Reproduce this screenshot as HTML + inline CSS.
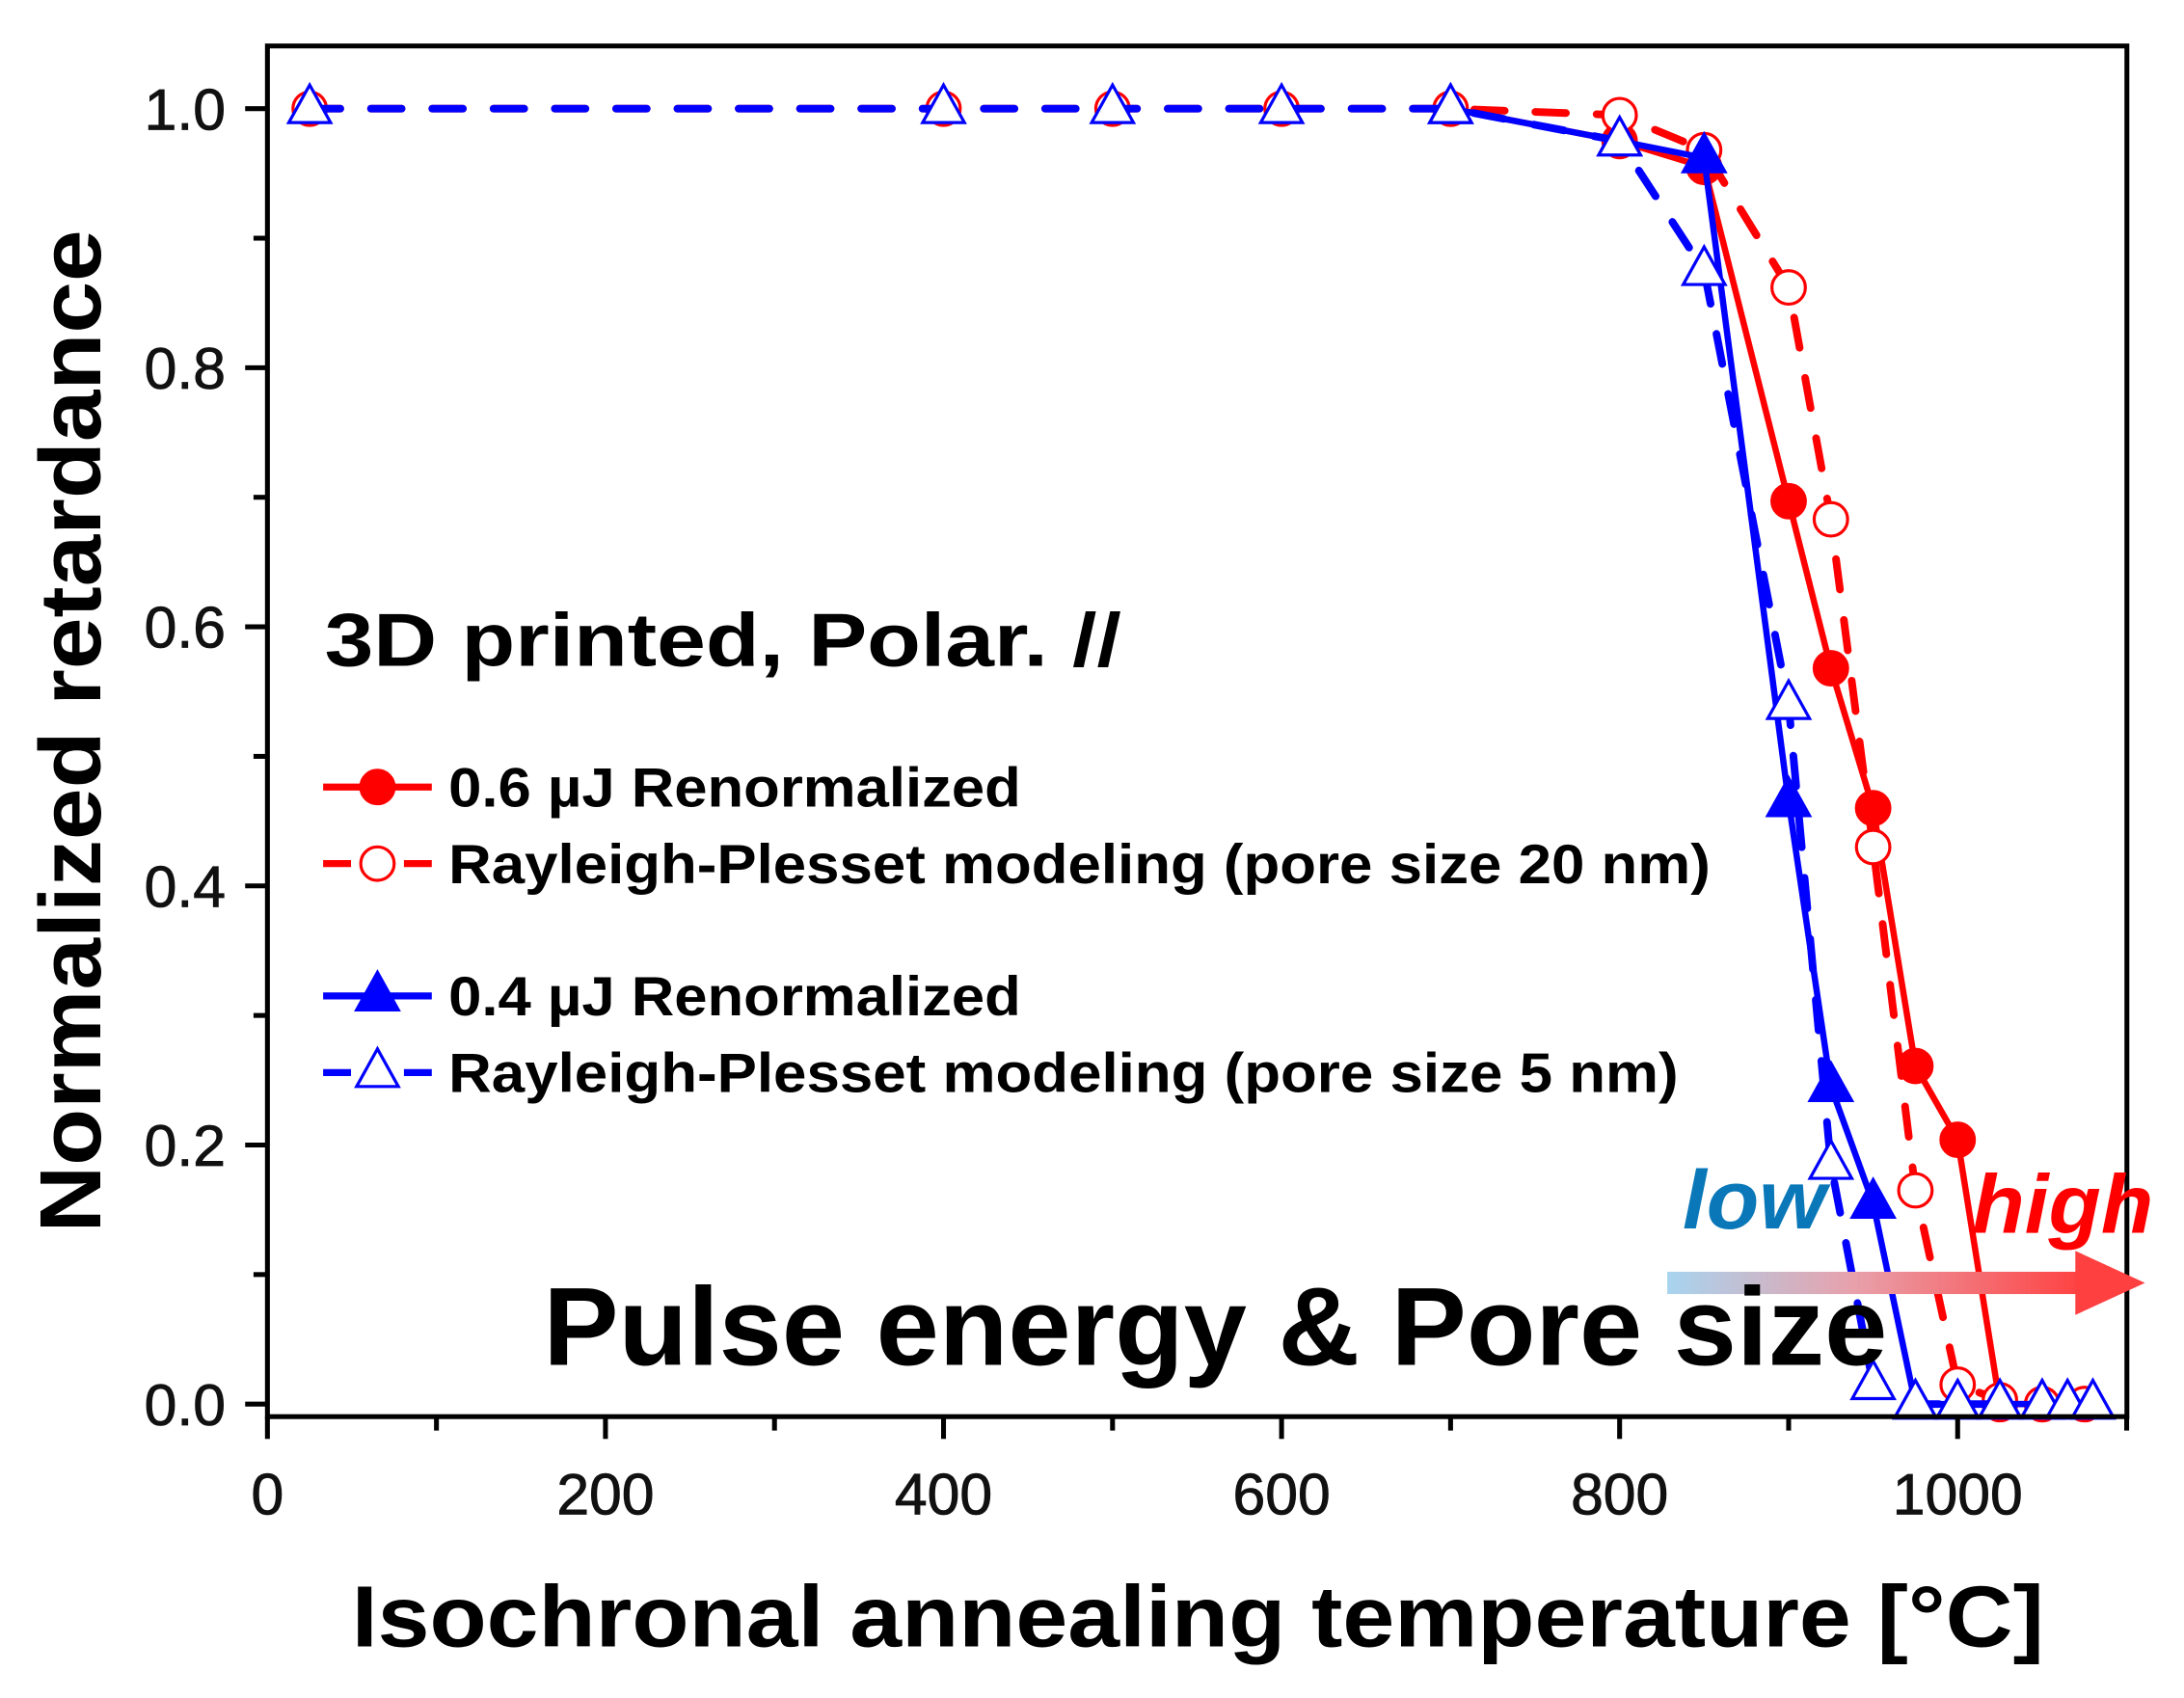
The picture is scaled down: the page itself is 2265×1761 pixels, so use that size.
<!DOCTYPE html>
<html><head><meta charset="utf-8"><style>html,body{margin:0;padding:0;background:#fff}svg{display:block}</style></head>
<body>
<svg id="s" width="2265" height="1761" viewBox="0 0 1568 1219" preserveAspectRatio="none" xmlns="http://www.w3.org/2000/svg" font-family="Liberation Sans, Arial, sans-serif">
<defs>
<linearGradient id="g" x1="0" x2="1" y1="0" y2="0">
<stop offset="0" stop-color="#a8d4ef"/><stop offset="0.45" stop-color="#e8a0aa"/><stop offset="1" stop-color="#ff4040"/>
</linearGradient>
</defs>
<rect x="0" y="0" width="1568" height="1219" fill="#fff"/>
<g id="plot"></g>
<rect x="192" y="33" width="1335" height="984" fill="none" stroke="#000" stroke-width="3.5"/>
<g id="ticks" stroke="#000" stroke-width="3.5"></g>
<g font-size="42" fill="#111" id="tl" stroke="#111" stroke-width="0.6"></g>
<text x="860" y="1182" font-size="62" font-weight="bold" text-anchor="middle" textLength="1215" lengthAdjust="spacingAndGlyphs">Isochronal annealing temperature [°C]</text>
<text transform="translate(72,525) rotate(-90)" font-size="62" font-weight="bold" text-anchor="middle" textLength="720" lengthAdjust="spacingAndGlyphs">Normalized retardance</text>
<text x="233" y="478" font-size="54" font-weight="bold" textLength="572" lengthAdjust="spacingAndGlyphs">3D printed, Polar. //</text>
<g font-size="40" font-weight="bold">
<text x="322" y="579" textLength="411" lengthAdjust="spacingAndGlyphs">0.6 µJ Renormalized</text>
<text x="322" y="634" textLength="906" lengthAdjust="spacingAndGlyphs">Rayleigh-Plesset modeling (pore size 20 nm)</text>
<text x="322" y="729" textLength="411" lengthAdjust="spacingAndGlyphs">0.4 µJ Renormalized</text>
<text x="322" y="784" textLength="883" lengthAdjust="spacingAndGlyphs">Rayleigh-Plesset modeling (pore size 5 nm)</text>
</g>
<g id="leg"></g>
<rect x="1197" y="913" width="300" height="16" fill="url(#g)"/>
<polygon points="1490,898 1540,921 1490,944" fill="#ff4040"/>
<text x="1208" y="882" font-size="60" font-weight="bold" font-style="italic" fill="#0a78b8" textLength="103" lengthAdjust="spacingAndGlyphs">low</text>
<text x="1416" y="885" font-size="60" font-weight="bold" font-style="italic" fill="#ff0000" textLength="130" lengthAdjust="spacingAndGlyphs">high</text>
<text x="390" y="980" font-size="80" font-weight="bold" textLength="965" lengthAdjust="spacingAndGlyphs">Pulse energy &amp; Pore size</text>
</svg>
<script>
const NS="http://www.w3.org/2000/svg";
const X=v=>192+v*1.2135, Y=v=>1008-v*930;
function el(p,t,a){const e=document.createElementNS(NS,t);for(const k in a)e.setAttribute(k,a[k]);p.appendChild(e);return e;}
const plot=document.getElementById('plot'),ticks=document.getElementById('ticks'),tl=document.getElementById('tl'),leg=document.getElementById('leg');
for(let v=0;v<=1100;v+=100){const maj=v%200==0;el(ticks,'line',{x1:X(v),x2:X(v),y1:1017,y2:1017+(maj?16:10)});
 if(maj){const t=el(tl,'text',{x:X(v),y:1087,'text-anchor':'middle'});t.textContent=v;}}
for(let i=0;i<=10;i++){const v=i/10,maj=i%2==0;el(ticks,'line',{x1:192,x2:192-(maj?16:10),y1:Y(v),y2:Y(v)});
 if(maj){const t=el(tl,'text',{x:162,y:Y(v)+15,'text-anchor':'end'});t.textContent=v.toFixed(1);}}
const R='#ff0000',B='#0000ff';
const rs=[[700,1],[800,0.975],[850,0.955],[900,0.697],[925,0.568],[950,0.46],[975,0.261],[1000,0.204],[1025,0],[1050,0],[1075,0]];
const rd=[[25,1],[400,1],[500,1],[600,1],[700,1],[800,0.995],[850,0.968],[900,0.862],[925,0.683],[950,0.43],[975,0.165],[1000,0.015],[1025,0.003],[1050,0],[1075,0]];
const bs=[[700,1],[800,0.975],[850,0.962],[900,0.465],[925,0.245],[950,0.155],[975,0],[1000,0],[1025,0],[1050,0],[1065,0],[1080,0]];
const bd=[[25,1],[400,1],[500,1],[600,1],[700,1],[800,0.975],[850,0.875],[900,0.54],[925,0.185],[950,0.015],[975,0],[1000,0],[1025,0],[1050,0],[1065,0],[1080,0]];
function line(d,c,dash){el(plot,'polyline',{points:d.map(p=>X(p[0])+','+Y(p[1])).join(' '),fill:'none',stroke:c,'stroke-width':dash?5.5:4.5,'stroke-dasharray':dash||'none','stroke-linecap':dash?'round':'butt'});}
function circ(g,x,y,c,fill){el(g,'circle',{cx:x,cy:y,r:12,fill:fill?c:'#fff',stroke:c,'stroke-width':2.2});}
function tri(g,x,y,c,fill){el(g,'polygon',{points:`${x},${y-17} ${x-15},${y+10} ${x+15},${y+10}`,fill:fill?c:'#fff',stroke:c,'stroke-width':2.2});}
line(rs,R);rs.forEach(p=>circ(plot,X(p[0]),Y(p[1]),R,1));
line(rd,R,'22,22');rd.forEach(p=>circ(plot,X(p[0]),Y(p[1]),R,0));
line(bs,B);bs.forEach(p=>tri(plot,X(p[0]),Y(p[1]),B,1));
line(bd,B,'22,22');bd.forEach(p=>tri(plot,X(p[0]),Y(p[1]),B,0));
[[565,R,0,circ,1],[620,R,1,circ,0],[715,B,0,tri,1],[770,B,1,tri,0]].forEach(([y,c,d,f,fl])=>{
 if(d){el(leg,'line',{x1:232,x2:252,y1:y,y2:y,stroke:c,'stroke-width':5});el(leg,'line',{x1:290,x2:310,y1:y,y2:y,stroke:c,'stroke-width':5});}
 else el(leg,'line',{x1:232,x2:310,y1:y,y2:y,stroke:c,'stroke-width':5});
 f(leg,271,y,c,fl);});
</script>
</body></html>
